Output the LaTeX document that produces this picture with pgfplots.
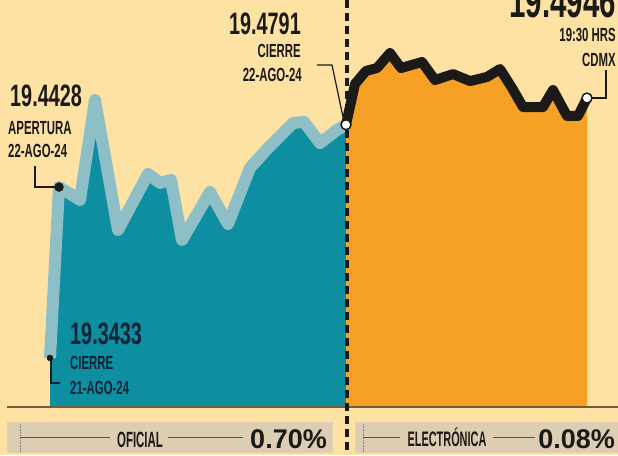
\documentclass[border=0pt]{standalone}
\usepackage{fontspec}
\setmainfont{Liberation Sans}
\newfontfamily\cnum{Liberation Sans}[FakeStretch=0.64]
\newfontfamily\clab{Liberation Sans}[FakeStretch=0.6]
\newfontfamily\cbot{Liberation Sans}[FakeStretch=0.52]
\usepackage{pgfplots}
\pgfplotsset{compat=1.18}
\definecolor{bg}{HTML}{FDE2A3}
\definecolor{tealf}{HTML}{0E8EA1}
\definecolor{tline}{HTML}{8EBFC7}
\definecolor{orng}{HTML}{F7A026}
\definecolor{band}{HTML}{DCCDB3}
\definecolor{ink}{HTML}{1C1A17}
\definecolor{navy}{HTML}{0F2236}
\definecolor{baseln}{HTML}{6E5C3C}
\pgfplotsset{base/.style={scale only axis, width=618pt, height=455pt,
  at={(0,0)}, anchor=south west, xmin=0, xmax=618, ymin=19.2868, ymax=19.5517,
  axis lines=none, ticks=none}}
\begin{document}
\begin{tikzpicture}
\path[use as bounding box, clip] (0,0) rectangle (618pt,455pt);
\fill[bg] (0,0) rectangle (618pt,455pt);
\begin{axis}[base]
% oficial
\addplot[fill=tealf, draw=none] coordinates {(50,19.3148) (50,19.3433) (59,19.4428) (80,19.4353) (95,19.4935) (118,19.4178) (148,19.4504) (160,19.4452) (171,19.4469) (182,19.4120) (210,19.4399) (228,19.4213) (250,19.4539) (268,19.4655) (293,19.4801) (304,19.4807) (320,19.4684) (337,19.4760) (346,19.4791) (346,19.3148)} -- cycle;
\addplot[tline, line width=12pt, line join=round] coordinates {(50,19.3433) (59,19.4428) (80,19.4353) (95,19.4935) (118,19.4178) (148,19.4504) (160,19.4452) (171,19.4469) (182,19.4120) (210,19.4399) (228,19.4213) (250,19.4539) (268,19.4655) (293,19.4801) (304,19.4807) (320,19.4684) (337,19.4760) (346,19.4791)};
% electronica
\addplot[fill=orng, draw=none] coordinates {(346,19.3148) (346,19.4791) (355,19.5028) (366,19.5104) (377,19.5121) (390,19.5208) (401,19.5121) (422,19.5156) (435,19.5051) (453,19.5086) (470,19.5045) (487,19.5069) (500,19.5115) (512,19.5005) (523,19.4894) (543,19.4894) (553,19.4993) (567,19.4842) (578,19.4842) (587,19.4946) (587,19.3148)} -- cycle;
\addplot[ink, line width=10pt, line join=round] coordinates {(346,19.4791) (355,19.5028) (366,19.5104) (377,19.5121) (390,19.5208) (401,19.5121) (422,19.5156) (435,19.5051) (453,19.5086) (470,19.5045) (487,19.5069) (500,19.5115) (512,19.5005) (523,19.4894) (543,19.4894) (553,19.4993) (567,19.4842) (578,19.4842) (587,19.4946)};
\addplot[baseln, line width=1.2pt] coordinates {(7,19.3148) (618,19.3148)};
\addplot[ink, line width=3.5pt, dash pattern=on 8pt off 5pt] coordinates {(347,19.5517) (347,19.2868)};
\end{axis}
\begin{scope}[x=1pt, y=-1pt, yshift=455pt]
% bottom band
\fill[band] (7,422) rectangle (333,453);
\fill[band] (355,422) rectangle (618,453);
\draw[gray, densely dotted, line width=0.6pt] (20,424) -- (20,452);
\draw[gray, densely dotted, line width=0.6pt] (363,424) -- (363,452);
\draw[ink!75, line width=0.7pt] (20,437) -- (110,437) (168,437) -- (243,437) (363,437) -- (400,437) (493,437) -- (535,437);
\node[anchor=base, inner sep=0, text=ink, font=\cbot\bfseries\fontsize{22}{24}\selectfont] at (140,447) {OFICIAL};
\node[anchor=base east, inner sep=0, text=ink, font=\bfseries\fontsize{27}{29}\selectfont] at (327,448) {0.70\%};
\node[anchor=base, inner sep=0, text=ink, font=\cbot\bfseries\fontsize{21}{23}\selectfont] at (447,446) {ELECTRÓNICA};
\node[anchor=base east, inner sep=0, text=ink, font=\bfseries\fontsize{27}{29}\selectfont] at (615,448) {0.08\%};
% leaders
\draw[ink, line width=1.2pt] (35,166) -- (35,187) -- (56,187);
\draw[ink, line width=1.2pt] (317,65) -- (332,65) -- (343,117);
\draw[ink, line width=1.2pt] (606,70) -- (606,98) -- (592,98);
\draw[navy, line width=1.2pt] (51,360) -- (51,383) -- (60,383);
% labels
\node[anchor=base west, inner sep=0, text=ink, font=\cnum\bfseries\fontsize{31}{33}\selectfont] at (10,107) {19.4428};
\node[anchor=base west, inner sep=0, text=ink, font=\clab\bfseries\fontsize{19}{21}\selectfont] at (8,135) {APERTURA};
\node[anchor=base west, inner sep=0, text=ink, font=\clab\bfseries\fontsize{19}{21}\selectfont] at (8,158) {22-AGO-24};
\node[anchor=base east, inner sep=0, text=ink, font=\cnum\bfseries\fontsize{31}{33}\selectfont] at (301,35) {19.4791};
\node[anchor=base east, inner sep=0, text=ink, font=\clab\bfseries\fontsize{19}{21}\selectfont] at (301,58) {CIERRE};
\node[anchor=base east, inner sep=0, text=ink, font=\clab\bfseries\fontsize{19}{21}\selectfont] at (302,82) {22-AGO-24};
\node[anchor=base east, inner sep=0, text=ink, font=\cnum\bfseries\fontsize{46}{48}\selectfont] at (616,18) {19.4946};
\node[anchor=base east, inner sep=0, text=ink, font=\clab\bfseries\fontsize{19}{21}\selectfont] at (616,42) {19:30 HRS};
\node[anchor=base east, inner sep=0, text=ink, font=\clab\bfseries\fontsize{19}{21}\selectfont] at (616,67) {CDMX};
\node[anchor=base west, inner sep=0, text=navy, font=\cnum\bfseries\fontsize{31}{33}\selectfont] at (70,345) {19.3433};
\node[anchor=base west, inner sep=0, text=navy, font=\clab\bfseries\fontsize{19}{21}\selectfont] at (70,370) {CIERRE};
\node[anchor=base west, inner sep=0, text=navy, font=\clab\bfseries\fontsize{19}{21}\selectfont] at (70,395) {21-AGO-24};
\end{scope}
\begin{axis}[base]
\addplot[only marks, mark=*, mark size=3pt, ink] coordinates {(50,19.3433)};
\addplot[only marks, mark=*, mark size=4.5pt, ink] coordinates {(59,19.4428)};
\addplot[only marks, mark=*, mark size=5pt, draw=ink, fill=white, line width=1.5pt] coordinates {(346,19.4791) (587,19.4946)};
\end{axis}
\end{tikzpicture}
\end{document}
